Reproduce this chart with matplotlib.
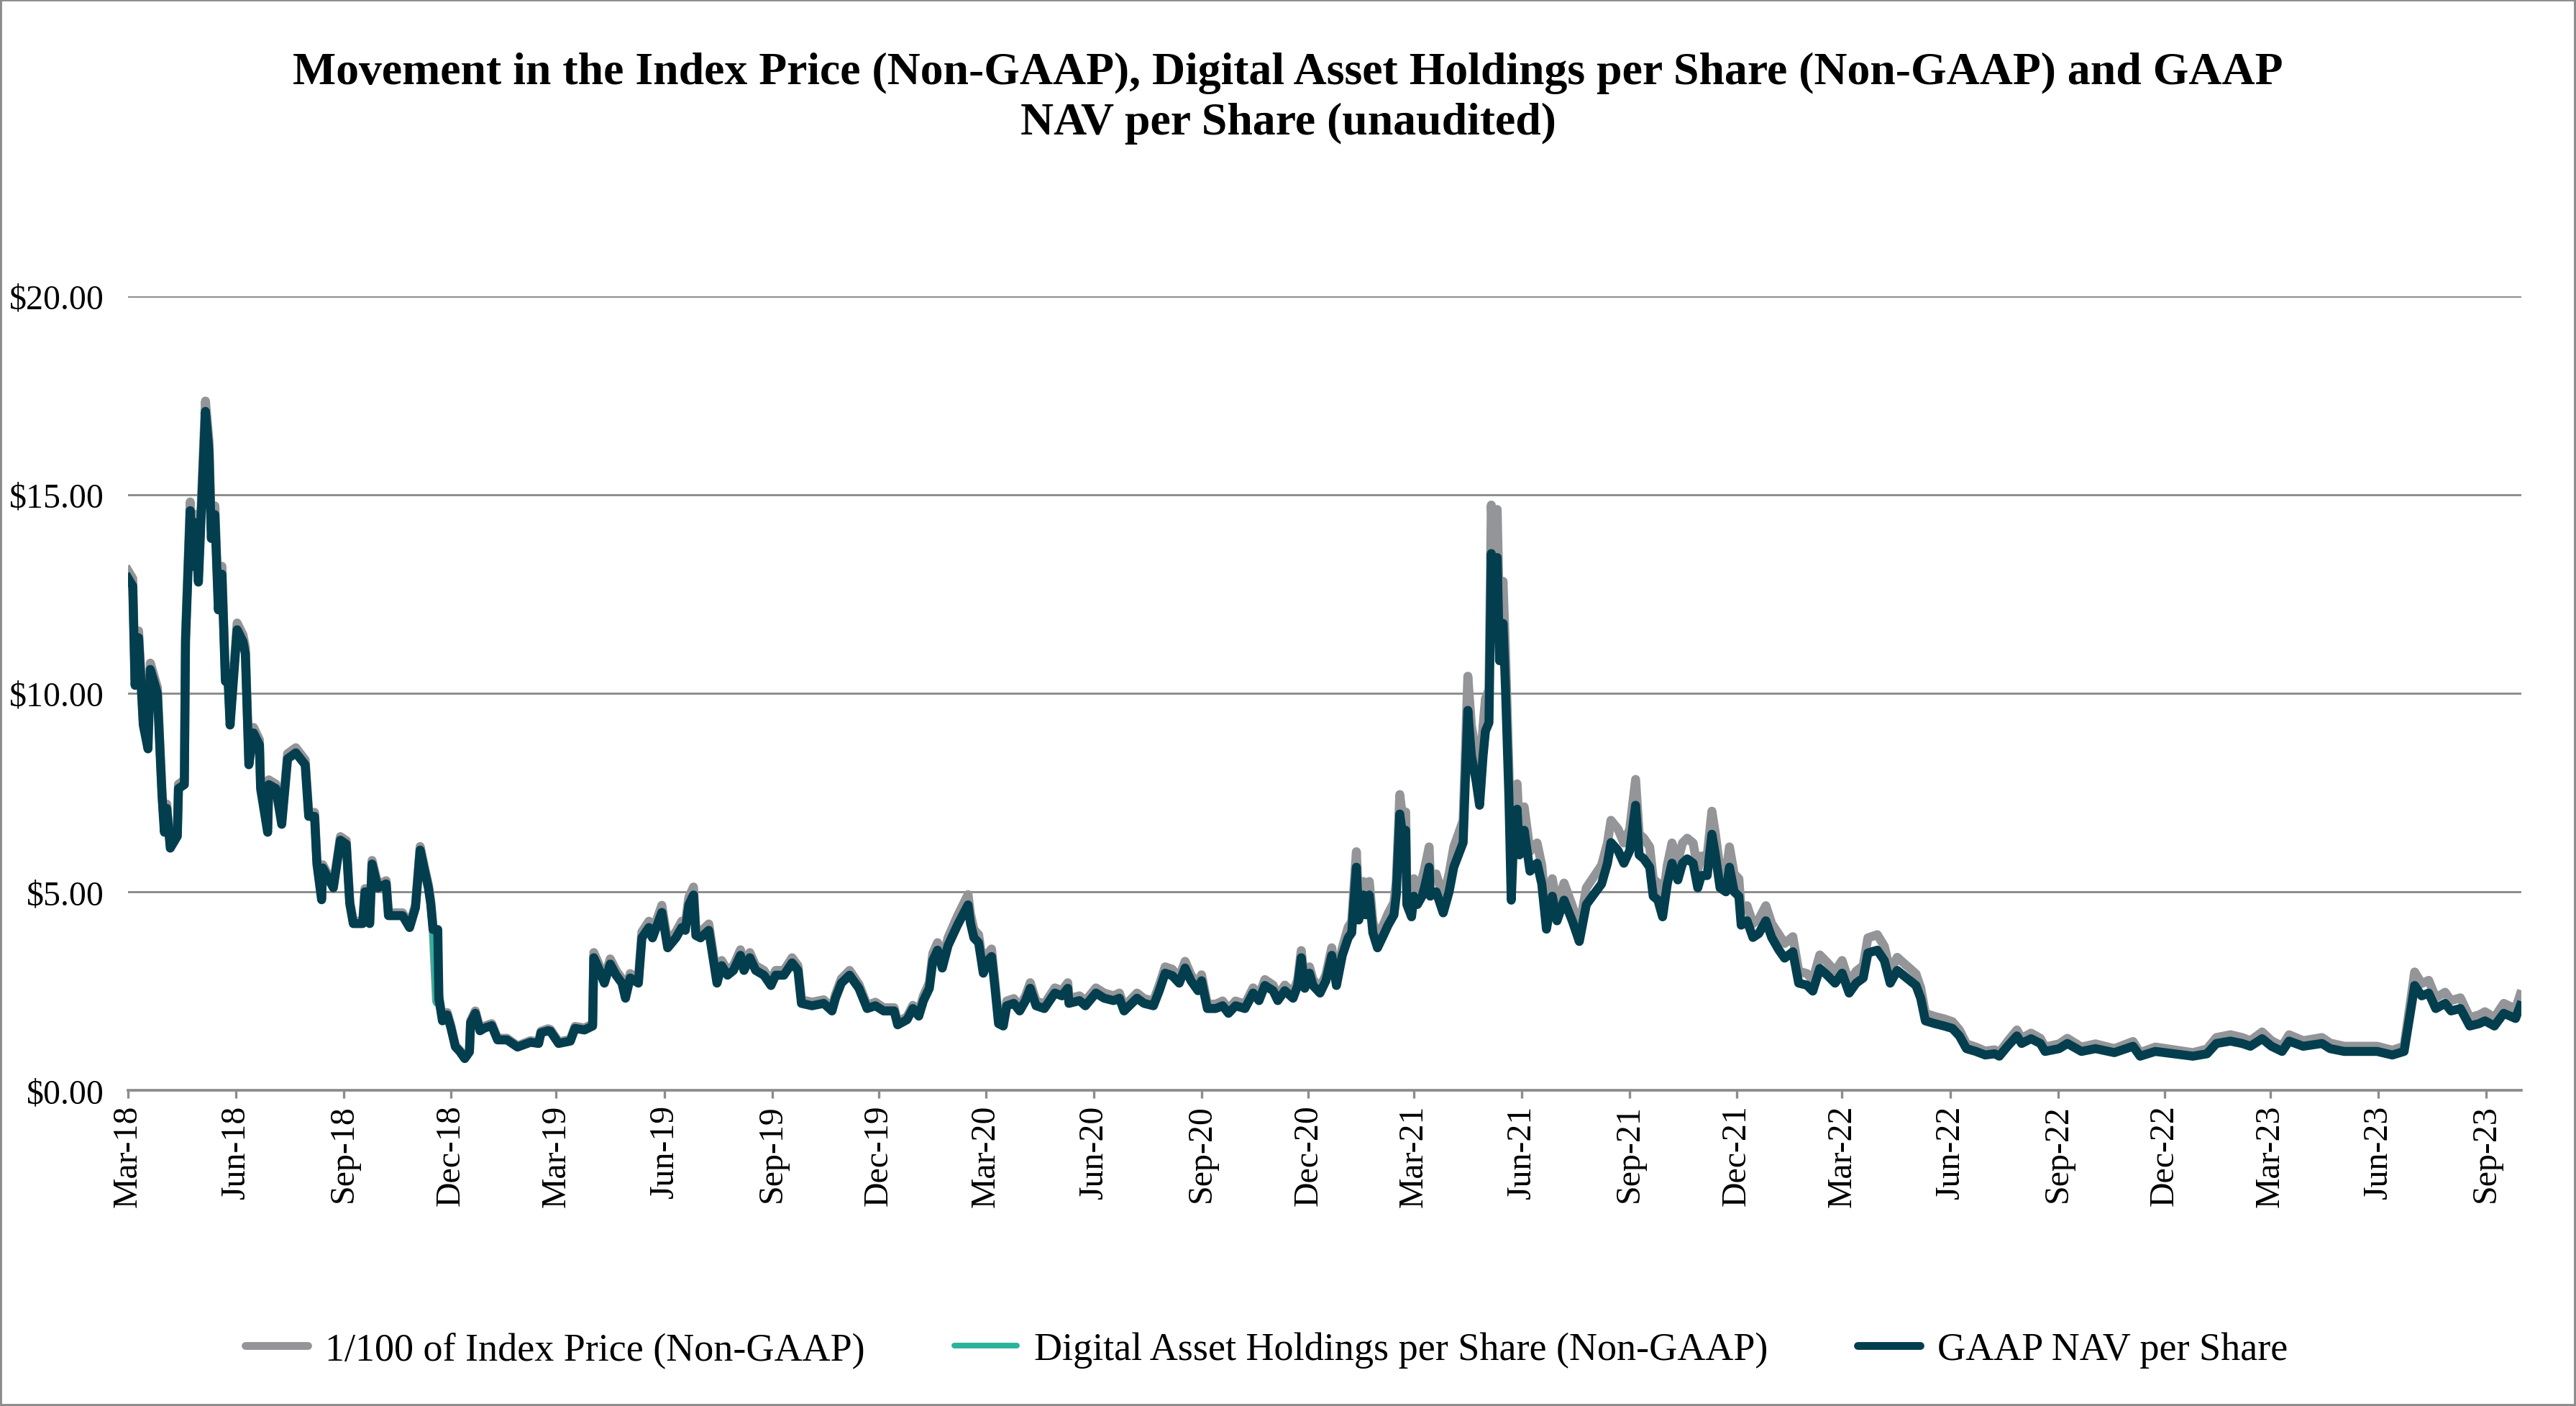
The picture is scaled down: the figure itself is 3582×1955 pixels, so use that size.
import numpy as np
import matplotlib.pyplot as plt
import matplotlib.dates as mdates
from matplotlib.patches import Rectangle
from matplotlib.ticker import FuncFormatter

plt.rcParams.update({
    "font.family": "serif",
    "font.serif": ["Liberation Serif", "DejaVu Serif"],
})

# values (USD per share)
dates = [
    # 2018
    "2018-03-01", "2018-03-05", "2018-03-07", "2018-03-10", "2018-03-14", "2018-03-18", "2018-03-20", "2018-03-26", "2018-03-30",
    "2018-04-01", "2018-04-03", "2018-04-06", "2018-04-12", "2018-04-13", "2018-04-18", "2018-04-19", "2018-04-23", "2018-04-25", "2018-04-27", "2018-04-30",
    "2018-05-06", "2018-05-09", "2018-05-11", "2018-05-14", "2018-05-17", "2018-05-20", "2018-05-23", "2018-05-25", "2018-05-27",
    "2018-06-02", "2018-06-07", "2018-06-09", "2018-06-12", "2018-06-16", "2018-06-21", "2018-06-22", "2018-06-28", "2018-06-29",
    "2018-07-05", "2018-07-10", "2018-07-15", "2018-07-22", "2018-07-30",
    "2018-08-02", "2018-08-07", "2018-08-09", "2018-08-13", "2018-08-14", "2018-08-23", "2018-08-29",
    "2018-09-03", "2018-09-06", "2018-09-09", "2018-09-17", "2018-09-19", "2018-09-23", "2018-09-25", "2018-09-30",
    "2018-10-07", "2018-10-09", "2018-10-18", "2018-10-21", "2018-10-27",
    "2018-11-01", "2018-11-05", "2018-11-09", "2018-11-12", "2018-11-14", "2018-11-16", "2018-11-19", "2018-11-20", "2018-11-21", "2018-11-24", "2018-11-28",
    "2018-12-01", "2018-12-05", "2018-12-09", "2018-12-13", "2018-12-17", "2018-12-18", "2018-12-22", "2018-12-26", "2018-12-30",
    # 2019
    "2019-01-05", "2019-01-10", "2019-01-18", "2019-01-27",
    "2019-02-07", "2019-02-14", "2019-02-16", "2019-02-22", "2019-02-24",
    "2019-03-03", "2019-03-13", "2019-03-17", "2019-03-25",
    "2019-04-01", "2019-04-02", "2019-04-06", "2019-04-11", "2019-04-16", "2019-04-21", "2019-04-26", "2019-04-29",
    "2019-05-03", "2019-05-10", "2019-05-13", "2019-05-19", "2019-05-22", "2019-05-30",
    "2019-06-04", "2019-06-11", "2019-06-16", "2019-06-19", "2019-06-22", "2019-06-26", "2019-06-28",
    "2019-07-02", "2019-07-09", "2019-07-13", "2019-07-16", "2019-07-20", "2019-07-25", "2019-07-30",
    "2019-08-05", "2019-08-08", "2019-08-13", "2019-08-18", "2019-08-25", "2019-08-31",
    "2019-09-04", "2019-09-11", "2019-09-18", "2019-09-23", "2019-09-26",
    "2019-10-05", "2019-10-15", "2019-10-22", "2019-10-25", "2019-10-30",
    "2019-11-06", "2019-11-14", "2019-11-21", "2019-11-28",
    "2019-12-05", "2019-12-14", "2019-12-17", "2019-12-25", "2019-12-30",
    # 2020
    "2020-01-04", "2020-01-08", "2020-01-13", "2020-01-16", "2020-01-20", "2020-01-24", "2020-01-29",
    "2020-02-06", "2020-02-15", "2020-02-17", "2020-02-20", "2020-02-24", "2020-02-28",
    "2020-03-03", "2020-03-06", "2020-03-09", "2020-03-12", "2020-03-16", "2020-03-19", "2020-03-25", "2020-03-30",
    "2020-04-04", "2020-04-08", "2020-04-13", "2020-04-20", "2020-04-29",
    "2020-05-05", "2020-05-10", "2020-05-11", "2020-05-20", "2020-05-25",
    "2020-06-03", "2020-06-10", "2020-06-18", "2020-06-23", "2020-06-27",
    "2020-07-08", "2020-07-14", "2020-07-22", "2020-07-27",
    "2020-08-01", "2020-08-07", "2020-08-13", "2020-08-18", "2020-08-23", "2020-08-29",
    "2020-09-01", "2020-09-06", "2020-09-13", "2020-09-19", "2020-09-24", "2020-09-30",
    "2020-10-08", "2020-10-15", "2020-10-20", "2020-10-25",
    "2020-11-01", "2020-11-05", "2020-11-11", "2020-11-18", "2020-11-22", "2020-11-25", "2020-11-28",
    "2020-12-02", "2020-12-05", "2020-12-11", "2020-12-16", "2020-12-21", "2020-12-25", "2020-12-30",
    # 2021
    "2021-01-04", "2021-01-07", "2021-01-11", "2021-01-13", "2021-01-17", "2021-01-19", "2021-01-22", "2021-01-25", "2021-01-29",
    "2021-02-03", "2021-02-07", "2021-02-12", "2021-02-14", "2021-02-17", "2021-02-19", "2021-02-22", "2021-02-23", "2021-02-27",
    "2021-03-01", "2021-03-04", "2021-03-08", "2021-03-10", "2021-03-14", "2021-03-15", "2021-03-20", "2021-03-26", "2021-03-31",
    "2021-04-04", "2021-04-08", "2021-04-12", "2021-04-16", "2021-04-19", "2021-04-23", "2021-04-26", "2021-04-29",
    "2021-05-01", "2021-05-04", "2021-05-06", "2021-05-08", "2021-05-11", "2021-05-13", "2021-05-16", "2021-05-18", "2021-05-21", "2021-05-23", "2021-05-25", "2021-05-28", "2021-05-30",
    "2021-06-03", "2021-06-08", "2021-06-14", "2021-06-18", "2021-06-22", "2021-06-27",
    "2021-07-01", "2021-07-07", "2021-07-14", "2021-07-20", "2021-07-26",
    "2021-08-03", "2021-08-08", "2021-08-13", "2021-08-16", "2021-08-22", "2021-08-27",
    "2021-09-01", "2021-09-06", "2021-09-09", "2021-09-13", "2021-09-18", "2021-09-21", "2021-09-25", "2021-09-29",
    "2021-10-03", "2021-10-07", "2021-10-12", "2021-10-16", "2021-10-20", "2021-10-25", "2021-10-29",
    "2021-11-01", "2021-11-06", "2021-11-10", "2021-11-13", "2021-11-17", "2021-11-22", "2021-11-25", "2021-11-29",
    "2021-12-03", "2021-12-05", "2021-12-10", "2021-12-15", "2021-12-20", "2021-12-26", "2021-12-31",
    # 2022
    "2022-01-06", "2022-01-11", "2022-01-18", "2022-01-23", "2022-01-30",
    "2022-02-04", "2022-02-10", "2022-02-16", "2022-02-23",
    "2022-03-01", "2022-03-07", "2022-03-13", "2022-03-19", "2022-03-23", "2022-03-31",
    "2022-04-06", "2022-04-11", "2022-04-17", "2022-04-25",
    "2022-05-03", "2022-05-07", "2022-05-11", "2022-05-19", "2022-05-27",
    "2022-06-03", "2022-06-09", "2022-06-15", "2022-06-23",
    "2022-07-01", "2022-07-09", "2022-07-13", "2022-07-20", "2022-07-28",
    "2022-08-01", "2022-08-09", "2022-08-17", "2022-08-21",
    "2022-09-02", "2022-09-09", "2022-09-21",
    "2022-10-03", "2022-10-19",
    "2022-11-04", "2022-11-10", "2022-11-23",
    "2022-12-09", "2022-12-25",
    # 2023
    "2023-01-06", "2023-01-14", "2023-01-26",
    "2023-02-05", "2023-02-12", "2023-02-22",
    "2023-03-02", "2023-03-11", "2023-03-17", "2023-03-29",
    "2023-04-14", "2023-04-21",
    "2023-05-03", "2023-05-19", "2023-05-31",
    "2023-06-13", "2023-06-23", "2023-06-30",
    "2023-07-02", "2023-07-08", "2023-07-14", "2023-07-20", "2023-07-28",
    "2023-08-02", "2023-08-10", "2023-08-18", "2023-08-26", "2023-08-31",
    "2023-09-08", "2023-09-16", "2023-09-26", "2023-09-30",
]

index_price = [  # 1/100 of index price
    13.09, 12.89, 10.35, 11.57, 9.34, 8.73, 10.76, 10.15, 7.51,
    6.6, 7.21, 6.19, 6.5, 7.71, 7.82, 11.47, 14.82, 13.4, 14.51, 12.99,
    17.36, 16.34, 14.11, 14.72, 12.28, 13.2, 10.45, 10.66, 9.34,
    11.77, 11.47, 11.17, 8.32, 9.14, 8.83, 7.71, 6.6, 7.82,
    7.71, 6.8, 8.48, 8.63, 8.32,
    7.0, 7.0, 5.79, 4.87, 5.68, 5.18, 6.39,
    6.29, 4.77, 4.26, 4.26, 5.08, 4.26, 5.79, 5.18,
    5.28, 4.47, 4.47, 4.47, 4.16,
    4.67, 6.14, 5.58, 5.18, 4.77, 4.11, 2.25, 2.3, 2.37, 1.8, 1.96,
    1.65, 1.13, 1.0, 0.82, 1.0, 1.75, 2.0, 1.55, 1.62,
    1.68, 1.31, 1.31, 1.12,
    1.25, 1.22, 1.49, 1.55, 1.53,
    1.22, 1.28, 1.61, 1.57,
    1.67, 3.47, 3.2, 2.81, 3.31, 3.02, 2.81, 2.41,
    2.94, 2.81, 3.99, 4.26, 3.99, 4.66,
    3.73, 3.99, 4.26, 4.19, 4.86, 5.12, 4.06,
    3.99, 4.19, 3.4, 2.81, 3.27, 3.02, 3.14,
    3.54, 3.14, 3.47, 3.14, 3.02, 2.75,
    3.02, 3.02, 3.34, 3.14, 2.28,
    2.22, 2.28, 2.08, 2.41, 2.81,
    3.02, 2.67, 2.14, 2.22,
    2.08, 2.08, 1.72, 1.85, 2.14,
    1.97, 2.38, 2.71, 3.45, 3.72, 3.25, 3.85,
    4.39, 4.93, 4.45, 4.05, 3.92, 3.11,
    3.45, 3.56, 2.71, 1.77, 1.71, 2.25, 2.31, 2.11,
    2.38, 2.71, 2.25, 2.17, 2.58,
    2.51, 2.71, 2.31, 2.38, 2.25,
    2.58, 2.45, 2.38, 2.45, 2.11,
    2.45, 2.31, 2.25, 2.65,
    3.11, 3.05, 2.85, 3.25, 2.91, 2.65,
    2.91, 2.17, 2.17, 2.25, 2.05, 2.25,
    2.17, 2.58, 2.38, 2.79,
    2.65, 2.38, 2.65, 2.45, 2.79, 3.52, 2.71,
    3.11, 2.79, 2.58, 2.91, 3.59, 2.79, 3.59,
    4.11, 4.25, 6.01, 4.59, 5.26, 4.73, 5.26, 4.25, 3.84,
    4.17, 4.45, 4.73, 5.26, 7.45, 6.96, 7.01, 5.01, 4.68,
    5.33, 5.1, 5.33, 5.56, 6.13, 5.33, 5.45, 4.87, 5.45,
    6.13, 6.46, 6.8, 10.43, 9.19, 8.5, 7.83, 9.19,
    9.86, 10.09, 14.74, 13.27, 14.63, 11.79, 12.82, 11.12, 8.06, 5.22, 6.92, 7.72, 6.46,
    7.14, 6.02, 6.23, 5.67, 4.43, 5.33,
    4.65, 5.22, 4.65, 4.09, 5.1,
    5.45, 5.67, 6.23, 6.8, 6.58, 6.23,
    6.58, 7.83, 6.46, 6.35, 6.13, 5.33, 5.22, 4.76,
    5.67, 6.23, 5.78, 6.23, 6.35, 6.23, 5.56,
    5.9, 5.9, 7.03, 6.46, 5.56, 5.45, 6.13, 5.45,
    5.33, 4.53, 4.65, 4.2, 4.31, 4.65, 4.2,
    3.93, 3.7, 3.87, 3.0, 2.94,
    2.78, 3.41, 3.23, 3.0,
    3.27, 2.72, 3.0, 3.14, 3.84, 3.92,
    3.63, 3.0, 3.35, 3.14,
    2.93, 2.58, 1.94, 1.86, 1.8,
    1.73, 1.52, 1.17, 1.09,
    0.99, 1.02, 0.95, 1.23, 1.52,
    1.31, 1.44, 1.31, 1.09,
    1.17, 1.31, 1.09,
    1.17, 1.05,
    1.23, 0.95, 1.09,
    1.02, 0.95,
    1.04, 1.33, 1.4,
    1.33, 1.25, 1.47,
    1.25, 1.11, 1.4, 1.25,
    1.33, 1.19,
    1.11, 1.11, 1.11,
    1.01, 1.11, 2.55,
    2.98, 2.69, 2.77, 2.33, 2.47,
    2.26, 2.33, 1.83, 1.9, 1.98,
    1.83, 2.19, 2.05, 2.41,
]

digital_assets = [
    12.9, 12.7, 10.2, 11.4, 9.2, 8.6, 10.6, 10.0, 7.4,
    6.5, 7.1, 6.1, 6.4, 7.6, 7.7, 11.3, 14.6, 13.2, 14.3, 12.8,
    17.1, 16.1, 13.9, 14.5, 12.1, 13.0, 10.3, 10.5, 9.2,
    11.6, 11.3, 11.0, 8.2, 9.0, 8.7, 7.6, 6.5, 7.7,
    7.6, 6.7, 8.35, 8.5, 8.2,
    6.9, 6.9, 5.7, 4.8, 5.6, 5.1, 6.3,
    6.2, 4.7, 4.2, 4.2, 5.0, 4.2, 5.7, 5.1,
    5.2, 4.4, 4.4, 4.4, 4.1,
    4.6, 6.05, 5.5, 5.1, 4.7, 4.05, 2.2, 2.25, 2.3, 1.75, 1.9,
    1.6, 1.1, 0.97, 0.8, 0.97, 1.7, 1.94, 1.5, 1.57,
    1.63, 1.27, 1.27, 1.09,
    1.21, 1.18, 1.45, 1.5, 1.49,
    1.18, 1.24, 1.56, 1.52,
    1.62, 3.34, 3.08, 2.7, 3.18, 2.9, 2.7, 2.32,
    2.83, 2.7, 3.84, 4.1, 3.84, 4.48,
    3.59, 3.84, 4.1, 4.03, 4.67, 4.92, 3.9,
    3.84, 4.03, 3.27, 2.7, 3.14, 2.9, 3.02,
    3.4, 3.02, 3.34, 3.02, 2.9, 2.64,
    2.9, 2.9, 3.21, 3.02, 2.19,
    2.13, 2.19, 2.0, 2.32, 2.7,
    2.9, 2.57, 2.06, 2.13,
    2.0, 2.0, 1.65, 1.78, 2.06,
    1.87, 2.26, 2.57, 3.27, 3.53, 3.08, 3.65,
    4.16, 4.67, 4.22, 3.84, 3.72, 2.95,
    3.27, 3.37, 2.57, 1.68, 1.62, 2.13, 2.19, 2.0,
    2.26, 2.57, 2.13, 2.06, 2.45,
    2.38, 2.57, 2.19, 2.26, 2.13,
    2.45, 2.32, 2.26, 2.32, 2.0,
    2.32, 2.19, 2.13, 2.51,
    2.95, 2.89, 2.7, 3.08, 2.76, 2.51,
    2.76, 2.06, 2.06, 2.13, 1.94, 2.13,
    2.06, 2.45, 2.26, 2.64,
    2.51, 2.26, 2.51, 2.32, 2.64, 3.34, 2.57,
    2.95, 2.64, 2.45, 2.76, 3.4, 2.64, 3.4,
    3.84, 3.97, 5.62, 4.29, 4.92, 4.42, 4.92, 3.97, 3.59,
    3.9, 4.16, 4.42, 4.92, 6.96, 6.5, 6.55, 4.68, 4.37,
    4.89, 4.68, 4.89, 5.1, 5.62, 4.89, 5.0, 4.47, 5.0,
    5.62, 5.93, 6.24, 9.57, 8.43, 7.8, 7.18, 8.43,
    9.05, 9.26, 13.52, 12.17, 13.42, 10.82, 11.76, 10.2, 7.39, 4.79, 6.35, 7.08, 5.93,
    6.55, 5.52, 5.72, 5.2, 4.06, 4.89,
    4.27, 4.79, 4.27, 3.75, 4.68,
    5.0, 5.2, 5.72, 6.24, 6.04, 5.72,
    6.04, 7.18, 5.93, 5.83, 5.62, 4.89, 4.79, 4.37,
    5.2, 5.72, 5.3, 5.72, 5.83, 5.72, 5.1,
    5.41, 5.41, 6.45, 5.93, 5.1, 5.0, 5.62, 5.0,
    4.89, 4.16, 4.27, 3.85, 3.95, 4.27, 3.85,
    3.54, 3.33, 3.49, 2.7, 2.65,
    2.5, 3.07, 2.91, 2.7,
    2.95, 2.45, 2.7, 2.83, 3.46, 3.53,
    3.27, 2.7, 3.02, 2.83,
    2.64, 2.32, 1.75, 1.68, 1.62,
    1.56, 1.37, 1.05, 0.98,
    0.89, 0.92, 0.86, 1.11, 1.37,
    1.18, 1.3, 1.18, 0.98,
    1.05, 1.18, 0.98,
    1.05, 0.95,
    1.11, 0.86, 0.98,
    0.92, 0.86,
    0.92, 1.18, 1.24,
    1.18, 1.11, 1.3,
    1.11, 0.98, 1.24, 1.11,
    1.18, 1.05,
    0.98, 0.98, 0.98,
    0.89, 0.98, 2.26,
    2.64, 2.38, 2.45, 2.06, 2.19,
    2.0, 2.06, 1.62, 1.68, 1.75,
    1.62, 1.94, 1.81, 2.13,
]

gaap_nav = [
    12.9, 12.7, 10.2, 11.4, 9.2, 8.6, 10.6, 10.0, 7.4,
    6.5, 7.1, 6.1, 6.4, 7.6, 7.7, 11.3, 14.6, 13.2, 14.3, 12.8,
    17.1, 16.1, 13.9, 14.5, 12.1, 13.0, 10.3, 10.5, 9.2,
    11.6, 11.3, 11.0, 8.2, 9.0, 8.7, 7.6, 6.5, 7.7,
    7.6, 6.7, 8.35, 8.5, 8.2,
    6.9, 6.9, 5.7, 4.8, 5.6, 5.1, 6.3,
    6.2, 4.7, 4.2, 4.2, 5.0, 4.2, 5.7, 5.1,
    5.2, 4.4, 4.4, 4.4, 4.1,
    4.6, 6.05, 5.5, 5.1, 4.7, 4.05, 4.05, 4.05, 2.3, 1.75, 1.9,
    1.6, 1.1, 0.97, 0.8, 0.97, 1.7, 1.94, 1.5, 1.57,
    1.63, 1.27, 1.27, 1.09,
    1.21, 1.18, 1.45, 1.5, 1.49,
    1.18, 1.24, 1.56, 1.52,
    1.62, 3.34, 3.08, 2.7, 3.18, 2.9, 2.7, 2.32,
    2.83, 2.7, 3.84, 4.1, 3.84, 4.48,
    3.59, 3.84, 4.1, 4.03, 4.67, 4.92, 3.9,
    3.84, 4.03, 3.27, 2.7, 3.14, 2.9, 3.02,
    3.4, 3.02, 3.34, 3.02, 2.9, 2.64,
    2.9, 2.9, 3.21, 3.02, 2.19,
    2.13, 2.19, 2.0, 2.32, 2.7,
    2.9, 2.57, 2.06, 2.13,
    2.0, 2.0, 1.65, 1.78, 2.06,
    1.87, 2.26, 2.57, 3.27, 3.53, 3.08, 3.65,
    4.16, 4.67, 4.22, 3.84, 3.72, 2.95,
    3.27, 3.37, 2.57, 1.68, 1.62, 2.13, 2.19, 2.0,
    2.26, 2.57, 2.13, 2.06, 2.45,
    2.38, 2.57, 2.19, 2.26, 2.13,
    2.45, 2.32, 2.26, 2.32, 2.0,
    2.32, 2.19, 2.13, 2.51,
    2.95, 2.89, 2.7, 3.08, 2.76, 2.51,
    2.76, 2.06, 2.06, 2.13, 1.94, 2.13,
    2.06, 2.45, 2.26, 2.64,
    2.51, 2.26, 2.51, 2.32, 2.64, 3.34, 2.57,
    2.95, 2.64, 2.45, 2.76, 3.4, 2.64, 3.4,
    3.84, 3.97, 5.62, 4.29, 4.92, 4.42, 4.92, 3.97, 3.59,
    3.9, 4.16, 4.42, 4.92, 6.96, 6.5, 6.55, 4.68, 4.37,
    4.89, 4.68, 4.89, 5.1, 5.62, 4.89, 5.0, 4.47, 5.0,
    5.62, 5.93, 6.24, 9.57, 8.43, 7.8, 7.18, 8.43,
    9.05, 9.26, 13.52, 12.17, 13.42, 10.82, 11.76, 10.2, 7.39, 4.79, 6.35, 7.08, 5.93,
    6.55, 5.52, 5.72, 5.2, 4.06, 4.89,
    4.27, 4.79, 4.27, 3.75, 4.68,
    5.0, 5.2, 5.72, 6.24, 6.04, 5.72,
    6.04, 7.18, 5.93, 5.83, 5.62, 4.89, 4.79, 4.37,
    5.2, 5.72, 5.3, 5.72, 5.83, 5.72, 5.1,
    5.41, 5.41, 6.45, 5.93, 5.1, 5.0, 5.62, 5.0,
    4.89, 4.16, 4.27, 3.85, 3.95, 4.27, 3.85,
    3.54, 3.33, 3.49, 2.7, 2.65,
    2.5, 3.07, 2.91, 2.7,
    2.95, 2.45, 2.7, 2.83, 3.46, 3.53,
    3.27, 2.7, 3.02, 2.83,
    2.64, 2.32, 1.75, 1.68, 1.62,
    1.56, 1.37, 1.05, 0.98,
    0.89, 0.92, 0.86, 1.11, 1.37,
    1.18, 1.3, 1.18, 0.98,
    1.05, 1.18, 0.98,
    1.05, 0.95,
    1.11, 0.86, 0.98,
    0.92, 0.86,
    0.92, 1.18, 1.24,
    1.18, 1.11, 1.3,
    1.11, 0.98, 1.24, 1.11,
    1.18, 1.05,
    0.98, 0.98, 0.98,
    0.89, 0.98, 2.26,
    2.64, 2.38, 2.45, 2.06, 2.19,
    2.0, 2.06, 1.62, 1.68, 1.75,
    1.62, 1.94, 1.81, 2.13,
]

series_labels = ["1/100 of Index Price (Non-GAAP)",
                 "Digital Asset Holdings per Share (Non-GAAP)",
                 "GAAP NAV per Share"]
y_ticks = [0, 5, 10, 15, 20]
title_lines = ["Movement in the Index Price (Non-GAAP), Digital Asset Holdings per Share (Non-GAAP) and GAAP",
               "NAV per Share (unaudited)"]

GRAY = "#939598"
TEAL = "#2ab39b"
DARK = "#033e4f"
GRID = "#8c8c8c"

x = np.array(dates, dtype="datetime64[D]")

fig = plt.figure(figsize=(11.94, 6.52), dpi=300)
ax = fig.add_axes([0.0497, 0.2244, 0.9291, 0.5645])

ax.plot(x, index_price, color=GRAY, lw=3.0, solid_joinstyle="round", zorder=3)
ax.plot(x, digital_assets, color=TEAL, lw=2.4, solid_joinstyle="round", zorder=4)
ax.plot(x, gaap_nav, color=DARK, lw=3.0, solid_joinstyle="round", zorder=5)

ax.set_xlim(np.datetime64("2018-03-01"), np.datetime64("2023-10-01"))
ax.set_ylim(0, 20)
ax.set_yticks(y_ticks)
ax.yaxis.set_major_formatter(FuncFormatter(lambda v, p: f"${v:.2f}"))
ax.xaxis.set_major_locator(mdates.MonthLocator(bymonth=[3, 6, 9, 12]))
ax.xaxis.set_major_formatter(mdates.DateFormatter("%b-%y"))

ax.yaxis.grid(True, color=GRID, lw=0.7)
ax.set_axisbelow(True)
for s in ["top", "right", "left"]:
    ax.spines[s].set_visible(False)
ax.spines["bottom"].set_color(GRID)
ax.spines["bottom"].set_linewidth(0.9)

ax.tick_params(axis="y", length=0, pad=8, labelsize=11.5)
ax.tick_params(axis="x", length=2.6, width=0.8, color=GRID, labelsize=11.5,
               labelrotation=90, pad=2)

fig.text(0.5, 1 - 102 / 1956, title_lines[0], ha="center", va="center",
         fontsize=15.3, fontweight="bold")
fig.text(0.5, 1 - 172 / 1956, title_lines[1], ha="center", va="center",
         fontsize=15.3, fontweight="bold")

leg_handles = [plt.Line2D([], [], color=GRAY, lw=2.6, solid_capstyle="round"),
               plt.Line2D([], [], color=TEAL, lw=1.9, solid_capstyle="round"),
               plt.Line2D([], [], color=DARK, lw=2.6, solid_capstyle="round")]
fig.legend(leg_handles, series_labels, loc="center", bbox_to_anchor=(0.4917, 1 - 1878 / 1956),
           ncol=3, frameon=False, fontsize=13, handlelength=1.6, handletextpad=0.45,
           columnspacing=2.3)

fig.patches.append(Rectangle((0, 0), 1, 1, transform=fig.transFigure, fill=False,
                             edgecolor=GRID, lw=1.4))

fig.savefig("out.png", dpi=300)
